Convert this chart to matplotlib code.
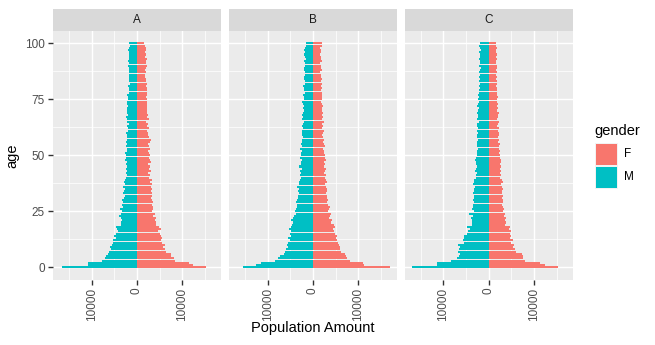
import numpy as np
import matplotlib
matplotlib.use("Agg")
import matplotlib.pyplot as plt
from matplotlib.patches import Rectangle
from matplotlib.transforms import ScaledTranslation

plt.rcParams['font.family'] = ['Liberation Sans', 'DejaVu Sans']

ages = list(range(0, 101))
panels = ["A", "B", "C"]

A_F = [15200, 12400, 11400, 8400, 8200, 7600, 7400, 6300, 6100, 5800,
       6200, 5500, 5300, 5600, 5200, 5000, 4700, 5200, 4800, 4100,
       4300, 3900, 4200, 3500, 4000, 3400, 3600, 3500, 3300, 3600,
       3400, 3100, 3300, 3200, 3000, 3300, 3100, 3200, 2900, 3200,
       2700, 2900, 2500, 3000, 2600, 2900, 2500, 3100, 2800, 2700,
       2800, 2600, 2400, 2900, 2700, 2500, 2800, 3000, 2600, 2400,
       2400, 2300, 2600, 2200, 2500, 2000, 2600, 2200, 2400, 2300,
       2200, 2300, 2100, 2300, 2200, 2200, 2000, 2200, 2100, 2200,
       2100, 2000, 2200, 1900, 2000, 1800, 1700, 2000, 1800, 1900,
       2100, 1900, 2000, 2200, 1800, 2000, 1700, 1900, 2000, 1800,
       1600]
A_M = [16500, 10900, 10900, 7800, 7000, 6800, 6300, 6200, 5800, 6000,
       5600, 5400, 5300, 4700, 5000, 4600, 4200, 4500, 4700, 3600,
       3500, 3400, 3600, 3900, 3500, 3300, 3800, 3100, 3300, 3000,
       3200, 2900, 2700, 3100, 2800, 2700, 3000, 2600, 2900, 2700,
       2400, 2300, 2500, 2300, 2400, 2200, 2400, 2300, 2600, 2500,
       2400, 2600, 2300, 2200, 2500, 2300, 2400, 2200, 2100, 2300,
       2400, 2000, 1900, 2300, 1800, 2200, 2100, 2400, 1900, 2100,
       2100, 2200, 2000, 2100, 2200, 1900, 2000, 2100, 1800, 1800,
       1700, 1900, 1600, 1800, 1700, 1700, 1800, 1800, 1700, 1700,
       1900, 1800, 2000, 1700, 1700, 1800, 1700, 1900, 1700, 1600,
       1800]
B_F = [16900, 11200, 11000, 8100, 7500, 7300, 7100, 6100, 5900, 6000,
       5800, 5600, 5300, 5200, 5400, 4900, 4700, 4500, 4800, 4600,
       3900, 4300, 3600, 3800, 4000, 3400, 3500, 3700, 3300, 3200,
       3300, 3100, 3200, 2900, 3000, 3200, 2800, 2600, 3000, 2900,
       2600, 2800, 2500, 2700, 2900, 2400, 2600, 2500, 2800, 2600,
       2600, 2400, 2500, 2300, 2600, 2400, 2200, 2500, 2300, 2100,
       2200, 2400, 2100, 2300, 2000, 2400, 2100, 2200, 1900, 2300,
       2100, 1900, 2200, 2000, 1800, 2000, 2100, 1900, 2000, 1800,
       1900, 1700, 2000, 1800, 1900, 1700, 1800, 1600, 1900, 1700,
       1800, 1600, 1900, 1800, 1700, 1500, 1800, 1700, 1600, 1900,
       1900]
B_M = [15500, 12500, 11400, 8400, 7700, 7200, 6400, 6200, 5900, 5600,
       5800, 5400, 5100, 5600, 4900, 5100, 4800, 5200, 4900, 4500,
       4400, 4800, 4300, 4100, 3800, 4000, 3700, 3600, 3500, 3700,
       3400, 3200, 3300, 3000, 3200, 3100, 3400, 3000, 3100, 2900,
       2700, 2900, 2600, 2800, 2500, 3000, 2600, 2700, 2400, 2800,
       2700, 2600, 2500, 2800, 2400, 2600, 2300, 2500, 2200, 2400,
       2300, 2500, 2100, 2400, 2200, 2000, 2300, 2100, 2400, 2200,
       2000, 2200, 1900, 2100, 2300, 1900, 2000, 2200, 1800, 2000,
       1900, 2100, 1700, 1800, 2000, 1900, 1700, 1800, 1900, 2000,
       1700, 1800, 1900, 1600, 1800, 2000, 1700, 1900, 1800, 1600,
       1600]
C_F = [15300, 12300, 11200, 8000, 7600, 7500, 7300, 6000, 5800, 5300,
       5600, 5000, 5300, 4700, 4900, 4600, 4900, 4400, 4700, 3600,
       3800, 3500, 3700, 3300, 3600, 3100, 3400, 3100, 3000, 3200,
       3100, 2900, 3200, 3000, 2900, 3100, 3000, 2800, 3100, 2900,
       2500, 2700, 2400, 2600, 2500, 2700, 2400, 2600, 2700, 2500,
       2400, 2200, 2500, 2300, 2200, 2400, 2100, 2300, 2000, 2200,
       2200, 2000, 2300, 1900, 2100, 2200, 1900, 2100, 2000, 2300,
       1900, 2100, 1800, 2000, 1900, 1700, 2000, 1800, 1900, 1700,
       1800, 1600, 1700, 1900, 1600, 1800, 1500, 1700, 1600, 1800,
       1700, 1500, 1600, 1800, 1600, 1700, 1500, 1600, 1800, 1500,
       1500]
C_M = [16900, 11400, 11400, 8300, 7100, 6600, 6400, 6900, 6600, 6300,
       6700, 5500, 5600, 5400, 5500, 4900, 4500, 4200, 4700, 3700,
       3800, 3600, 3900, 3500, 4300, 3300, 3800, 3400, 3500, 3300,
       3400, 3200, 3300, 3400, 3200, 3300, 3100, 3400, 3200, 3300,
       2800, 2900, 2700, 3000, 2800, 2700, 2900, 2800, 3000, 2900,
       2700, 2500, 2600, 2400, 2700, 2500, 2600, 2300, 2600, 2500,
       2400, 2600, 2300, 2500, 2700, 2200, 2500, 2400, 2300, 2600,
       2300, 2200, 2500, 2400, 2200, 2300, 2100, 2300, 2200, 2100,
       2000, 2200, 1900, 2100, 2000, 2200, 1900, 2100, 2000, 1800,
       2100, 1900, 2000, 2200, 1900, 2000, 2100, 1800, 2000, 2100,
       2000]

data = {"A": (A_F, A_M), "B": (B_F, B_M), "C": (C_F, C_M)}
genders = ["F", "M"]
colors = {"F": "#F8766D", "M": "#00BFC4"}
x_ticks = [-10000, 0, 10000]
x_minor = [-15000, -5000, 5000, 15000]
y_ticks = [0, 25, 50, 75, 100]
y_minor = [12.5, 37.5, 62.5, 87.5]

W, H = 655, 345
fig = plt.figure(figsize=(W / 100, H / 100), dpi=100)

FS_TICK = 8.8 * 0.96
FS_TITLE = 11 * 0.96

# shared limits (ggplot-like 5% expansion)
all_lo = min(-max(m) for f, m in data.values())
all_hi = max(max(f) for f, m in data.values())
rng = all_hi - all_lo
xlim = (all_lo - 0.05 * rng, all_hi + 0.05 * rng)
ylo, yhi = -0.45, 100.45
ypad = 0.05 * (yhi - ylo)
ylim = (ylo - ypad, yhi + ypad)

panel_w = 168.6
gap = 7.3
left0 = 52.7
top, bottom = 31.0, 279.6
strip_top = 8.5

for i, p in enumerate(panels):
    x0 = left0 + i * (panel_w + gap)
    ax = fig.add_axes([x0 / W, 1 - bottom / H, panel_w / W, (bottom - top) / H])
    ax.set_facecolor("#EBEBEB")
    F, M = data[p]
    ax.barh(ages, F, height=0.9, color=colors["F"], linewidth=0)
    ax.barh(ages, [-v for v in M], height=0.9, color=colors["M"], linewidth=0)
    ax.set_xlim(xlim)
    ax.set_ylim(ylim)
    ax.set_axisbelow(True)
    ax.set_xticks(x_ticks)
    ax.set_xticklabels([f"{abs(v)}" for v in x_ticks], rotation=90,
                       fontsize=FS_TICK, color="#4D4D4D")
    offset = ScaledTranslation(2.5 / 100, 1.0 / 100, fig.dpi_scale_trans)
    for lbl in ax.get_xticklabels():
        lbl.set_transform(lbl.get_transform() + offset)
    ax.set_xticks(x_minor, minor=True)
    ax.set_yticks(y_ticks)
    ax.set_yticks(y_minor, minor=True)
    if i == 0:
        ax.set_yticklabels([str(v) for v in y_ticks], fontsize=FS_TICK, color="#4D4D4D")
        ax.tick_params(axis="y", which="major", length=3.5, width=1.0,
                       color="#333333", pad=2.1)
        ax.set_ylabel("age", fontsize=FS_TITLE, color="black", labelpad=4)
    else:
        ax.tick_params(axis="y", which="major", length=0, labelleft=False)
    ax.tick_params(axis="x", which="major", length=3.5, width=1.0,
                   color="#333333", pad=2.1)
    ax.tick_params(which="minor", length=0)
    ax.grid(which="major", color="white", linewidth=1.02)
    ax.grid(which="minor", color="white", linewidth=0.51)
    for s in ax.spines.values():
        s.set_visible(False)
    # strip
    fig.patches.append(Rectangle((x0 / W, 1 - top / H), panel_w / W,
                                 (top - strip_top) / H, transform=fig.transFigure,
                                 facecolor="#D9D9D9", edgecolor="none"))
    fig.text((x0 + panel_w / 2) / W, 1 - ((top + strip_top) / 2) / H, p,
             ha="center", va="center", fontsize=FS_TICK, color="#1A1A1A")

# x axis title
fig.text((left0 + (3 * panel_w + 2 * gap) / 2) / W, 1 - 328 / H, "Population Amount",
         ha="center", va="center", fontsize=FS_TITLE, color="black")

# legend
fig.text(594 / W, 1 - 131 / H, "gender", ha="left", va="center",
         fontsize=FS_TITLE, color="black")
key_y = [142.5, 165.5]
for g, ky in zip(genders, key_y):
    fig.patches.append(Rectangle((594.5 / W, 1 - (ky + 23) / H), 23 / W, 23 / H,
                                 transform=fig.transFigure, facecolor="#F2F2F2",
                                 edgecolor="none"))
    fig.patches.append(Rectangle((595.5 / W, 1 - (ky + 22) / H), 21 / W, 21 / H,
                                 transform=fig.transFigure, facecolor=colors[g],
                                 edgecolor="none"))
    fig.text(624 / W, 1 - (ky + 11.5) / H, g, ha="left", va="center",
             fontsize=FS_TICK, color="black")

fig.savefig("out.png", dpi=100, facecolor="white")
